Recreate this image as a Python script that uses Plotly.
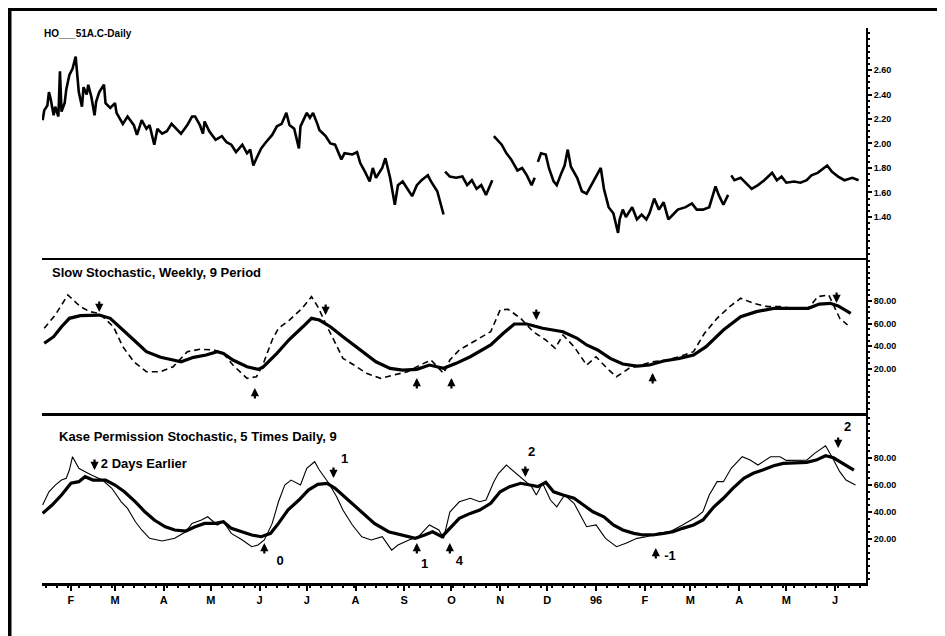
import plotly.graph_objects as go
from plotly.subplots import make_subplots

# daily heating oil price (HO___51A.C), None marks the contract gaps
price_dates = [
    "1995-01-14", "1995-01-15", "1995-01-17", "1995-01-18", "1995-01-19", "1995-01-21", "1995-01-22",
    "1995-01-24", "1995-01-25", "1995-01-26", "1995-01-28", "1995-01-29", "1995-01-31", "1995-02-02",
    "1995-02-04", "1995-02-05", "1995-02-06", "1995-02-08", "1995-02-09", "1995-02-11", "1995-02-12",
    "1995-02-14", "1995-02-16", "1995-02-17", "1995-02-19", "1995-02-22", "1995-02-23", "1995-02-26",
    "1995-03-01", "1995-03-02", "1995-03-06", "1995-03-09", "1995-03-13", "1995-03-15", "1995-03-18",
    "1995-03-21", "1995-03-23", "1995-03-26", "1995-03-28", "1995-03-31", "1995-04-03", "1995-04-06",
    "1995-04-09", "1995-04-12", "1995-04-16", "1995-04-19", "1995-04-21", "1995-04-24", "1995-04-26",
    "1995-04-27", "1995-04-30", "1995-05-04", "1995-05-08", "1995-05-11", "1995-05-14", "1995-05-17",
    "1995-05-21", "1995-05-24", "1995-05-26", "1995-05-28", "1995-05-30", "1995-06-02", "1995-06-05",
    "1995-06-09", "1995-06-12", "1995-06-15", "1995-06-18", "1995-06-20", "1995-06-23", "1995-06-26",
    "1995-06-27", "1995-06-29", "1995-07-01", "1995-07-03", "1995-07-05", "1995-07-08", "1995-07-09",
    "1995-07-13", "1995-07-16", "1995-07-19", "1995-07-21", "1995-07-23", "1995-07-25", "1995-07-30",
    "1995-08-02", "1995-08-04", "1995-08-07", "1995-08-10", "1995-08-12", "1995-08-14", "1995-08-18",
    "1995-08-20", "1995-08-23", "1995-08-26", "1995-08-28", "1995-08-31", "1995-09-03", "1995-09-06",
    "1995-09-09", "1995-09-12", "1995-09-16", "1995-09-18", "1995-09-22", "1995-09-24", "1995-09-26",
    "1995-09-26 12:00",
    "1995-09-27", "1995-09-30", "1995-10-04", "1995-10-08", "1995-10-11", "1995-10-14", "1995-10-17",
    "1995-10-20", "1995-10-23", "1995-10-27",
    "1995-10-27 12:00",
    "1995-10-28", "1995-10-30", "1995-11-02", "1995-11-05", "1995-11-08", "1995-11-12", "1995-11-15",
    "1995-11-18", "1995-11-21", "1995-11-23",
    "1995-11-24",
    "1995-11-25", "1995-11-27", "1995-11-30", "1995-12-02", "1995-12-05", "1995-12-07", "1995-12-10",
    "1995-12-12", "1995-12-14", "1995-12-16", "1995-12-20", "1995-12-23", "1995-12-26", "1995-12-29",
    "1996-01-01", "1996-01-04", "1996-01-06", "1996-01-09", "1996-01-12", "1996-01-15", "1996-01-16",
    "1996-01-18", "1996-01-20", "1996-01-24", "1996-01-27", "1996-01-30", "1996-02-02", "1996-02-04",
    "1996-02-07", "1996-02-10", "1996-02-13", "1996-02-16", "1996-02-19", "1996-02-22", "1996-02-27",
    "1996-03-02", "1996-03-05", "1996-03-09", "1996-03-13", "1996-03-17", "1996-03-19", "1996-03-22",
    "1996-03-25",
    "1996-03-26",
    "1996-03-27", "1996-03-29", "1996-04-02", "1996-04-05", "1996-04-09", "1996-04-13", "1996-04-17",
    "1996-04-22", "1996-04-25", "1996-04-28", "1996-05-01", "1996-05-06", "1996-05-10", "1996-05-14",
    "1996-05-17", "1996-05-21", "1996-05-27", "1996-05-30", "1996-06-03", "1996-06-07", "1996-06-12",
    "1996-06-16",
]
price_values = [
    2.19, 2.27, 2.31, 2.42, 2.37, 2.23, 2.30,
    2.22, 2.59, 2.26, 2.33, 2.44, 2.56, 2.61,
    2.71, 2.59, 2.42, 2.30, 2.46, 2.40, 2.48,
    2.38, 2.23, 2.34, 2.42, 2.48, 2.33, 2.29,
    2.33, 2.25, 2.16, 2.22, 2.15, 2.07, 2.19,
    2.12, 2.15, 1.99, 2.12, 2.08, 2.10, 2.16,
    2.12, 2.08, 2.15, 2.22, 2.22, 2.15, 2.08,
    2.18, 2.10, 2.03, 2.06, 2.01, 1.99, 1.93,
    1.99, 1.92, 1.95, 1.82, 1.88, 1.96, 2.01,
    2.07, 2.14, 2.16, 2.25, 2.15, 2.12, 1.96,
    2.14, 2.19, 2.25, 2.21, 2.25, 2.15, 2.11,
    2.06, 2.00, 1.99, 1.93, 1.87, 1.92, 1.91,
    1.93, 1.84, 1.77, 1.69, 1.80, 1.72, 1.80,
    1.88, 1.72, 1.50, 1.66, 1.69, 1.63, 1.57,
    1.66, 1.70, 1.74, 1.69, 1.61, 1.52, 1.42,
    None,
    1.77, 1.73, 1.72, 1.73, 1.66, 1.70, 1.63,
    1.66, 1.58, 1.70,
    None,
    2.06, 2.03, 1.99, 1.92, 1.87, 1.78, 1.80,
    1.74, 1.66, 1.72,
    None,
    1.85, 1.92, 1.91, 1.80, 1.69, 1.66, 1.76,
    1.82, 1.95, 1.81, 1.72, 1.61, 1.59, 1.66,
    1.73, 1.80, 1.63, 1.48, 1.43, 1.27, 1.38,
    1.46, 1.40, 1.48, 1.38, 1.42, 1.38, 1.43,
    1.55, 1.46, 1.52, 1.38, 1.42, 1.46, 1.48,
    1.51, 1.46, 1.46, 1.48, 1.65, 1.58, 1.50,
    1.58,
    None,
    1.74, 1.70, 1.72, 1.68, 1.63, 1.66, 1.70,
    1.76, 1.70, 1.73, 1.68, 1.69, 1.68, 1.70,
    1.74, 1.76, 1.82, 1.77, 1.73, 1.70, 1.72,
    1.70,
]

# weekly slow stochastic: %D (solid) and %K (dashed)
weekly_d_dates = [
    "1995-01-15", "1995-01-21", "1995-01-26", "1995-01-31", "1995-02-07", "1995-02-13", "1995-02-19",
    "1995-02-26", "1995-03-04", "1995-03-13", "1995-03-21", "1995-03-30", "1995-04-07", "1995-04-12",
    "1995-04-20", "1995-04-28", "1995-05-05", "1995-05-09", "1995-05-15", "1995-05-24", "1995-05-31",
    "1995-06-03", "1995-06-12", "1995-06-20", "1995-06-29", "1995-07-04", "1995-07-09", "1995-07-16",
    "1995-07-24", "1995-08-04", "1995-08-14", "1995-08-23", "1995-08-31", "1995-09-09", "1995-09-17",
    "1995-09-26", "1995-10-04", "1995-10-13", "1995-10-19", "1995-10-26", "1995-11-03", "1995-11-10",
    "1995-11-18", "1995-11-28", "1995-12-11", "1995-12-20", "1995-12-26", "1996-01-02", "1996-01-10",
    "1996-01-18", "1996-01-27", "1996-02-04", "1996-02-13", "1996-02-23", "1996-03-03", "1996-03-11",
    "1996-03-22", "1996-04-02", "1996-04-12", "1996-04-23", "1996-05-05", "1996-05-15", "1996-05-22",
    "1996-05-29", "1996-06-03", "1996-06-11",
]
weekly_d_values = [
    42.7, 48.5, 57.3, 64.7, 67.0, 67.0, 67.6,
    64.7, 57.3, 45.6, 35.3, 30.3, 27.9, 26.4,
    30.3, 32.3, 35.3, 33.8, 27.9, 22.0, 19.7,
    21.5, 33.8, 46.2, 57.9, 64.7, 63.2, 57.3,
    48.5, 36.8, 26.4, 20.6, 19.1, 19.7, 23.5,
    20.6, 25.0, 30.8, 35.3, 41.2, 51.5, 59.7,
    59.7, 55.9, 52.9, 47.1, 41.2, 36.8, 29.4,
    24.4, 22.6, 23.5, 27.1, 29.4, 32.3, 39.7,
    54.4, 66.1, 70.6, 73.5, 73.5, 73.5, 77.3,
    77.9, 75.6, 69.1,
]
weekly_k_dates = [
    "1995-01-15", "1995-01-22", "1995-01-30", "1995-02-07", "1995-02-13", "1995-02-19", "1995-02-28",
    "1995-03-06", "1995-03-13", "1995-03-21", "1995-03-30", "1995-04-07", "1995-04-16", "1995-04-24",
    "1995-05-03", "1995-05-09", "1995-05-15", "1995-05-24", "1995-05-30", "1995-06-03", "1995-06-09",
    "1995-06-13", "1995-06-20", "1995-06-28", "1995-07-04", "1995-07-08", "1995-07-15", "1995-07-20",
    "1995-07-24", "1995-07-31", "1995-08-08", "1995-08-17", "1995-08-25", "1995-09-03", "1995-09-11",
    "1995-09-18", "1995-09-26", "1995-09-30", "1995-10-06", "1995-10-17", "1995-10-26", "1995-11-01",
    "1995-11-06", "1995-11-14", "1995-11-22", "1995-11-30", "1995-12-06", "1995-12-11", "1995-12-18",
    "1995-12-26", "1996-01-01", "1996-01-08", "1996-01-14", "1996-01-22", "1996-01-29", "1996-02-06",
    "1996-02-15", "1996-02-23", "1996-03-03", "1996-03-10", "1996-03-18", "1996-03-26", "1996-04-02",
    "1996-04-10", "1996-04-19", "1996-04-27", "1996-05-05", "1996-05-15", "1996-05-21", "1996-05-28",
    "1996-06-04", "1996-06-09",
]
weekly_k_values = [
    55.9, 67.6, 85.3, 75.0, 70.6, 69.1, 57.3,
    39.7, 26.4, 17.6, 17.6, 22.0, 35.3, 37.4,
    36.8, 33.8, 23.5, 11.8, 13.2, 23.5, 45.6,
    55.9, 63.2, 73.5, 83.8, 75.0, 54.4, 39.7,
    29.4, 23.5, 16.2, 11.8, 14.7, 17.6, 23.5,
    27.9, 16.2, 27.9, 36.8, 45.6, 52.9, 72.1,
    72.7, 64.7, 52.9, 45.6, 38.3, 50.0, 39.7,
    23.5, 30.8, 20.6, 13.2, 20.6, 23.5, 26.4,
    27.9, 30.8, 35.3, 51.5, 64.7, 75.0, 82.4,
    78.0, 75.0, 75.0, 73.5, 73.5, 83.8, 85.3,
    64.7, 58.8,
]
# signal arrows (value = arrow tip)
weekly_down_dates = ["1995-02-19", "1995-07-13", "1995-11-24", "1996-06-02"]
weekly_down_values = [70.3, 67.6, 63.2, 78.2]
weekly_up_dates = ["1995-05-29", "1995-09-09", "1995-10-01", "1996-02-06"]
weekly_up_values = [3.2, 12.1, 12.1, 16.5]

# Kase permission stochastic: slow (thick) and fast (thin)
kase_slow_dates = [
    "1995-01-14", "1995-01-20", "1995-01-26", "1995-02-01", "1995-02-06", "1995-02-10", "1995-02-15",
    "1995-02-23", "1995-03-01", "1995-03-07", "1995-03-14", "1995-03-20", "1995-03-26", "1995-04-02",
    "1995-04-08", "1995-04-15", "1995-04-21", "1995-04-27", "1995-05-04", "1995-05-09", "1995-05-14",
    "1995-05-21", "1995-05-27", "1995-06-02", "1995-06-08", "1995-06-13", "1995-06-19", "1995-06-26",
    "1995-07-02", "1995-07-08", "1995-07-14", "1995-07-19", "1995-07-25", "1995-08-01", "1995-08-07",
    "1995-08-13", "1995-08-22", "1995-08-30", "1995-09-08", "1995-09-14", "1995-09-19", "1995-09-25",
    "1995-09-30", "1995-10-06", "1995-10-13", "1995-10-19", "1995-10-26", "1995-11-01", "1995-11-07",
    "1995-11-14", "1995-11-20", "1995-11-25", "1995-11-30", "1995-12-05", "1995-12-11", "1995-12-18",
    "1995-12-24", "1995-12-30", "1996-01-06", "1996-01-12", "1996-01-18", "1996-01-25", "1996-01-31",
    "1996-02-06", "1996-02-13", "1996-02-19", "1996-02-25", "1996-03-03", "1996-03-09", "1996-03-16",
    "1996-03-22", "1996-03-28", "1996-04-04", "1996-04-10", "1996-04-16", "1996-04-23", "1996-04-29",
    "1996-05-08", "1996-05-14", "1996-05-20", "1996-05-26", "1996-05-31", "1996-06-06", "1996-06-13",
]
kase_slow_values = [
    39.0, 45.2, 52.6, 61.3, 62.5, 66.2, 63.7,
    63.7, 60.0, 55.0, 47.6, 40.2, 34.1, 29.1,
    26.7, 25.9, 29.1, 31.6, 31.6, 32.8, 27.9,
    25.0, 23.0, 21.7, 24.2, 31.6, 41.5, 48.9,
    56.3, 60.5, 61.3, 57.6, 51.3, 43.9, 37.8,
    31.6, 25.4, 23.0, 20.5, 23.0, 25.4, 21.7,
    28.0, 35.3, 39.0, 41.5, 46.5, 55.0, 58.8,
    61.3, 60.0, 58.8, 62.0, 55.0, 52.6, 50.2,
    45.2, 40.2, 36.5, 30.4, 26.7, 24.2, 23.0,
    23.0, 24.2, 25.4, 27.9, 30.4, 34.1, 43.9,
    50.2, 57.6, 65.0, 68.7, 71.1, 74.3, 76.1,
    76.8, 76.8, 78.5, 81.7, 80.2, 76.1, 71.1,
]
kase_fast_dates = [
    "1995-01-14", "1995-01-18", "1995-01-22", "1995-01-26", "1995-01-29", "1995-01-31", "1995-02-02",
    "1995-02-06", "1995-02-10", "1995-02-14", "1995-02-21", "1995-02-27", "1995-03-05", "1995-03-09",
    "1995-03-14", "1995-03-18", "1995-03-23", "1995-03-31", "1995-04-08", "1995-04-15", "1995-04-19",
    "1995-04-25", "1995-04-29", "1995-05-05", "1995-05-09", "1995-05-14", "1995-05-21", "1995-05-27",
    "1995-05-31", "1995-06-04", "1995-06-09", "1995-06-13", "1995-06-17", "1995-06-21", "1995-06-27",
    "1995-07-01", "1995-07-06", "1995-07-09", "1995-07-15", "1995-07-20", "1995-07-24", "1995-07-30",
    "1995-08-05", "1995-08-11", "1995-08-18", "1995-08-24", "1995-08-28", "1995-09-04", "1995-09-10",
    "1995-09-17", "1995-09-23", "1995-09-26", "1995-09-30", "1995-10-06", "1995-10-13", "1995-10-19",
    "1995-10-23", "1995-10-28", "1995-10-31", "1995-11-05", "1995-11-21", "1995-11-24", "1995-11-28",
    "1995-12-03", "1995-12-07", "1995-12-12", "1995-12-18", "1995-12-22", "1995-12-26", "1996-01-01",
    "1996-01-07", "1996-01-14", "1996-01-20", "1996-01-27", "1996-02-02", "1996-02-09", "1996-02-17",
    "1996-02-25", "1996-03-05", "1996-03-09", "1996-03-13", "1996-03-18", "1996-03-22", "1996-03-27",
    "1996-04-03", "1996-04-08", "1996-04-13", "1996-04-21", "1996-04-27", "1996-05-01", "1996-05-08",
    "1996-05-14", "1996-05-19", "1996-05-26", "1996-05-30", "1996-06-04", "1996-06-08", "1996-06-14",
]
kase_fast_values = [
    45.2, 55.0, 60.0, 63.7, 65.0, 71.1, 81.0,
    72.4, 69.9, 67.4, 63.7, 57.6, 47.6, 42.7,
    32.8, 26.7, 20.5, 18.5, 20.5, 25.4, 31.6,
    34.1, 36.5, 30.4, 32.8, 24.2, 19.3, 14.3,
    15.6, 19.3, 31.6, 47.6, 60.0, 63.7, 60.0,
    72.4, 77.3, 71.1, 61.3, 51.3, 41.5, 30.4,
    21.7, 19.3, 21.7, 11.8, 15.6, 19.3, 21.7,
    30.4, 26.7, 20.5, 40.0, 47.6, 50.2, 47.6,
    48.9, 62.5, 68.7, 74.8, 58.8, 52.6, 61.3,
    48.9, 43.9, 52.6, 46.5, 37.8, 29.1, 30.4,
    20.5, 14.3, 16.8, 20.5, 21.7, 24.2, 25.4,
    30.4, 36.5, 40.2, 52.6, 62.5, 62.5, 72.4,
    81.0, 78.5, 74.8, 81.0, 81.0, 78.3, 78.3,
    78.5, 83.5, 89.1, 81.0, 69.9, 63.7, 60.0,
]
kase_down_dates = ["1995-02-16", "1995-07-18", "1995-11-17", "1996-06-03"]
kase_down_values = [71.1, 65.2, 65.9, 87.4]
kase_up_dates = ["1995-06-04", "1995-09-09", "1995-09-30", "1996-02-08"]
kase_up_values = [17.0, 17.0, 17.0, 13.3]
kase_note_date = ["1995-02-20"]
kase_note_value = [74.8]
kase_note_text = ["2 Days Earlier"]
kase_count_dates = ["1995-06-14", "1995-07-25", "1995-09-14", "1995-10-06", "1995-11-21", "1996-02-17", "1996-06-09"]
kase_count_values = [3.0, 78.5, 0.7, 3.0, 83.7, 6.7, 102.3]
kase_count_texts = ["0", "1", "1", "4", "2", "-1", "2"]

month_ticks = [
    "1995-02-01", "1995-03-01", "1995-04-01", "1995-05-01", "1995-06-01", "1995-07-01",
    "1995-08-01", "1995-09-01", "1995-10-01", "1995-11-01", "1995-12-01", "1996-01-01",
    "1996-02-01", "1996-03-01", "1996-04-01", "1996-05-01", "1996-06-01",
]
month_labels = ["F", "M", "A", "M", "J", "J", "A", "S", "O", "N", "D", "96", "F", "M", "A", "M", "J"]

FONT = "Liberation Sans"
# the page body adds an 8px margin, so the figure is 8px smaller than the window
W, H = 937, 628

fig = make_subplots(rows=3, cols=1, shared_xaxes=True, vertical_spacing=0)

fig.add_trace(go.Scatter(x=price_dates, y=price_values, mode="lines",
                         line=dict(color="black", width=2.6), connectgaps=False), row=1, col=1)

fig.add_trace(go.Scatter(x=weekly_k_dates, y=weekly_k_values, mode="lines",
                         line=dict(color="black", width=1.6, dash="6px,4px")), row=2, col=1)
fig.add_trace(go.Scatter(x=weekly_d_dates, y=weekly_d_values, mode="lines",
                         line=dict(color="black", width=3.2)), row=2, col=1)

fig.add_trace(go.Scatter(x=kase_fast_dates, y=kase_fast_values, mode="lines",
                         line=dict(color="black", width=1.1)), row=3, col=1)
fig.add_trace(go.Scatter(x=kase_slow_dates, y=kase_slow_values, mode="lines",
                         line=dict(color="black", width=3.2)), row=3, col=1)

label_font = dict(family=FONT, size=13, color="black", weight="bold")
fig.add_trace(go.Scatter(x=kase_note_date, y=kase_note_value, mode="text", text=kase_note_text,
                         textposition="middle right", textfont=label_font), row=3, col=1)
fig.add_trace(go.Scatter(x=kase_count_dates, y=kase_count_values, mode="text", text=kase_count_texts,
                         textfont=label_font), row=3, col=1)

# signal arrows
arrow_sets = [
    (weekly_down_dates, weekly_down_values, -12, 2),
    (weekly_up_dates, weekly_up_values, 12, 2),
    (kase_down_dates, kase_down_values, -12, 3),
    (kase_up_dates, kase_up_values, 12, 3),
]
for dates, values, tail, row in arrow_sets:
    for d, v in zip(dates, values):
        fig.add_annotation(x=d, y=v, ax=0, ay=tail, text="", showarrow=True,
                           arrowhead=2, arrowsize=0.75, arrowwidth=2.2, arrowcolor="black",
                           row=row, col=1)

# panel geometry (pixels from top of the figure)
x_domain = [34 / W, 858 / W]
fig.update_xaxes(domain=x_domain, range=["1995-01-13 14:00", "1996-06-20 17:00"],
                 showgrid=False, zeroline=False, showline=True, linecolor="black")
fig.update_xaxes(linewidth=2, ticks="", row=1, col=1)
fig.update_xaxes(linewidth=3, ticks="", row=2, col=1)
fig.update_xaxes(linewidth=3, ticks="outside", ticklen=5, tickwidth=2, tickcolor="black",
                 tickvals=month_ticks, ticktext=month_labels,
                 tickfont=dict(family=FONT, size=11, color="black", weight="bold"),
                 minor=dict(ticks="outside", ticklen=2, tickcolor="black",
                            dtick=7 * 86400000, tick0="1995-01-02"),
                 row=3, col=1)

yaxis_style = dict(side="right", showgrid=False, zeroline=False, showline=True, linecolor="black",
                   linewidth=2, ticks="outside", ticklen=4, tickwidth=2, tickcolor="black",
                   tickformat=".2f", tickfont=dict(family=FONT, size=9, color="black", weight="bold"))
fig.update_yaxes(domain=[1 - 250 / H, 1 - 20 / H], range=[1.065, 2.943],
                 tickvals=[1.4, 1.6, 1.8, 2.0, 2.2, 2.4, 2.6],
                 minor=dict(ticks="outside", ticklen=2, tickcolor="black", dtick=0.05),
                 row=1, col=1, **yaxis_style)
fig.update_yaxes(domain=[1 - 405 / H, 1 - 250 / H], range=[-18.8, 117.9],
                 tickvals=[20, 40, 60, 80],
                 minor=dict(ticks="outside", ticklen=2, tickcolor="black", dtick=5),
                 row=2, col=1, **yaxis_style)
fig.update_yaxes(domain=[1 - 575 / H, 1 - 405 / H], range=[-12.6, 113.4],
                 tickvals=[20, 40, 60, 80],
                 minor=dict(ticks="outside", ticklen=2, tickcolor="black", dtick=5),
                 row=3, col=1, **yaxis_style)

titles = [
    ("HO___51A.C-Daily", 34, 25.5, 10),
    ("Slow Stochastic, Weekly, 9 Period", 42, 264.5, 13),
    ("Kase Permission Stochastic, 5 Times Daily, 9", 49, 428, 13),
]
for text, px, py, size in titles:
    fig.add_annotation(text=text, xref="paper", yref="paper", x=px / W, y=1 - py / H,
                       xanchor="left", yanchor="middle", showarrow=False,
                       font=dict(family=FONT, size=size, color="black", weight="bold"))

# scanned page frame
fig.add_shape(type="rect", xref="paper", yref="paper", x0=1.5 / W, x1=1.02, y0=-0.02, y1=1 - 1.0 / H,
              line=dict(color="black", width=4), fillcolor="rgba(0,0,0,0)")

fig.update_layout(
    width=W, height=H,
    margin=dict(l=0, r=0, t=0, b=0),
    paper_bgcolor="white", plot_bgcolor="white",
    showlegend=False,
    font=dict(family=FONT, color="black"),
)

fig.write_html("out.html")
